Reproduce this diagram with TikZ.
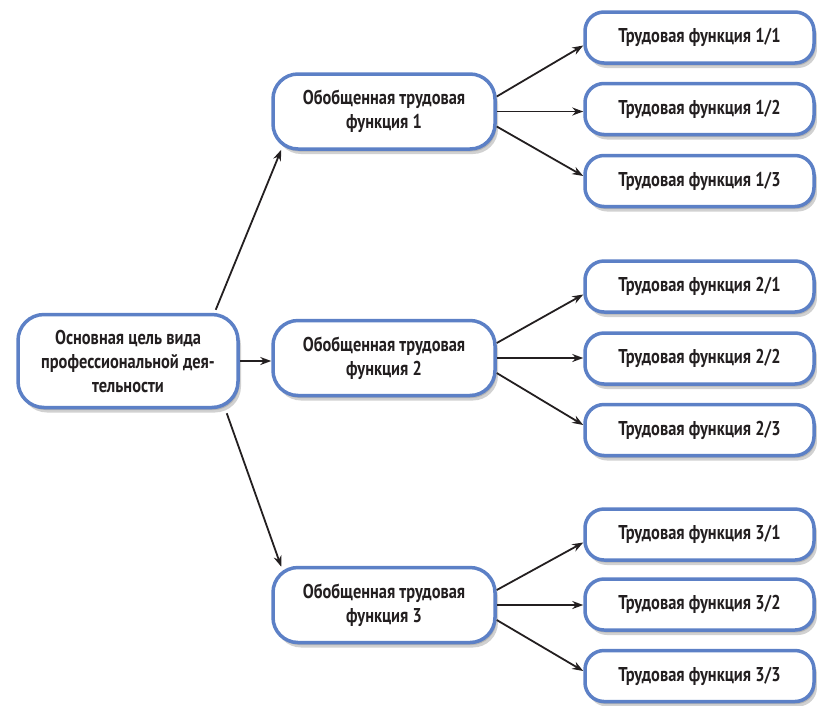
\documentclass[tikz,border=0pt]{standalone}
\usepackage{fontspec}
\setmainfont{PT Sans}[FakeStretch=0.82]
\usetikzlibrary{shadows,calc,arrows.meta}
\definecolor{bord}{RGB}{92,128,198}
\definecolor{txt}{RGB}{35,31,32}
\tikzset{
  box/.style={draw=bord, line width=3.5pt, fill=white, align=center, inner sep=0pt,
    text=txt, font=\fontsize{20}{24}\selectfont\bfseries,
    drop shadow={shadow xshift=1.5pt, shadow yshift=-2.5pt, fill=black!35, opacity=0.8},
    drop shadow={shadow xshift=3pt, shadow yshift=-5pt, fill=black!30, opacity=0.6}},
  bigbox/.style={box, minimum width=220pt, minimum height=93pt, rounded corners=26pt},
  midbox/.style={box, minimum width=222pt, minimum height=75pt, rounded corners=25pt},
  smallbox/.style={box, minimum width=229pt, minimum height=51pt, rounded corners=19pt},
  arr/.style={draw=txt, line width=1.8pt, -{Stealth[length=11pt,width=8pt]}}
}
\begin{document}
\begin{tikzpicture}[x=1pt,y=-1pt]
\useasboundingbox (0,0) rectangle (817,705);
\node[bigbox] (L) at (128,361) {Основная цель вида\\профессиональной дея-\\тельности};
\node[midbox] (M1) at (384,111.5) {Обобщенная трудовая\\функция 1};
\node[midbox] (M2) at (384,358) {Обобщенная трудовая\\функция 2};
\node[midbox] (M3) at (384,605) {Обобщенная трудовая\\функция 3};
\node[smallbox] (R11) at (699.5,37.5) {Трудовая функция 1/1};
\node[smallbox] (R12) at (699.5,109) {Трудовая функция 1/2};
\node[smallbox] (R13) at (699.5,181) {Трудовая функция 1/3};
\node[smallbox] (R21) at (699.5,286.5) {Трудовая функция 2/1};
\node[smallbox] (R22) at (699.5,358.5) {Трудовая функция 2/2};
\node[smallbox] (R23) at (699.5,430) {Трудовая функция 2/3};
\node[smallbox] (R31) at (699.5,534.5) {Трудовая функция 3/1};
\node[smallbox] (R32) at (699.5,604.5) {Трудовая функция 3/2};
\node[smallbox] (R33) at (699.5,676) {Трудовая функция 3/3};
\draw[arr] ($(L.north east)+(-24,-3)$) -- ($(M1.south west)+(10,-1)$);
\draw[arr] (L.east) -- (L.east -| M2.west);
\draw[arr] ($(L.south east)+(-13,4)$) -- ($(M3.north west)+(10,1)$);
\foreach \m/\a/\b/\c in {M1/R11/R12/R13, M2/R21/R22/R23, M3/R31/R32/R33}{
  \draw[arr] ($(\m.east)+(0,-15)$) -- ($(\a.west)+(0,8)$);
  \draw[arr] (\m.east) -- (\m.east -| \b.west);
  \draw[arr] ($(\m.east)+(0,15)$) -- ($(\c.west)+(0,-5)$);
}
\end{tikzpicture}
\end{document}
